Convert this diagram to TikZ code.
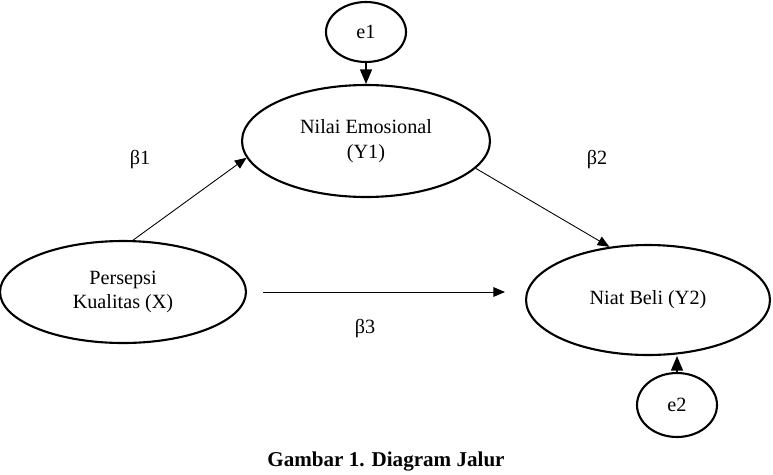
\documentclass[tikz,border=0pt]{standalone}
\usepackage{fontspec}
\setmainfont{Liberation Serif}
\usetikzlibrary{shapes.geometric}
\usetikzlibrary{arrows}
\tikzset{
  var/.style={draw,ellipse,line width=1.2pt,inner sep=0pt,align=center},
  err/.style={draw,ellipse,line width=1.2pt,inner sep=0pt,
    minimum width=1.6cm,minimum height=1.2cm},
}

\begin{document}
\begin{tikzpicture}[x=0.02cm,y=-0.02cm,>=triangle 45,font=\fontsize{11.5}{14}\selectfont]
    \useasboundingbox (0,0) rectangle (773,474);
    \draw node at (366,32)[err,name=e1]{e1};
    \draw node at (366,141)[var,minimum width=4.96cm,minimum height=2.24cm,name=Y1]{Nilai Emosional\\(Y1)};
    \draw node at (123,292)[var,minimum width=4.92cm,minimum height=2.04cm,name=X]{Persepsi\\Kualitas (X)};
    \draw node at (648,300)[var,minimum width=4.88cm,minimum height=2.2cm,name=Y2]{Niat Beli (Y2)};
    \draw node at (677,405)[err,minimum height=1.28cm,name=e2]{e2};

    \draw[->,line width=0.9pt](e1) -- (Y1);
    \draw[->,line width=0.9pt](e2) -- (e2 |- Y2.south);
    \draw[->,line width=0.5pt](X.79) -- (Y1.188);
    \draw[->,line width=0.5pt](Y1.-14) -- (Y2.126);
    \draw[->,line width=0.5pt,shorten >=0.4cm,shorten <=0.32cm](X.east) -- (X.east -| Y2.west);

    \draw node at (140,160)[name=b1]{β1};
    \draw node at (597,160)[name=b2]{β2};
    \draw node at (365,329)[name=b3]{β3};

    \draw node at (386,461)[name=judul,font=\fontsize{12}{14}\selectfont\bfseries]{Gambar 1. Diagram Jalur};
\end{tikzpicture}
\end{document}
